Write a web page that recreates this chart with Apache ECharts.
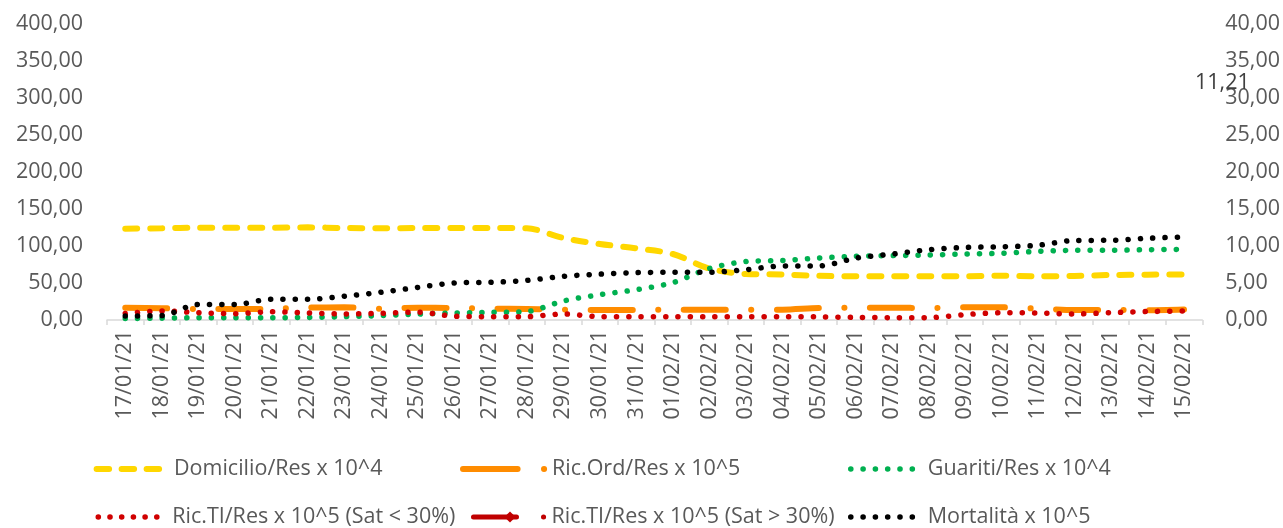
<!DOCTYPE html>
<html>
<head>
<meta charset="utf-8">
<script src="https://cdn.jsdelivr.net/npm/echarts@6/dist/echarts.min.js"></script>
<style>
  html, body { margin: 0; padding: 0; background: #ffffff; }
  #chart { width: 1283px; height: 528px; }
</style>
</head>
<body>
<div id="chart"></div>
<script>
// Daily dates shown on the category axis
const categories = [
  '17/01/21', '18/01/21', '19/01/21', '20/01/21', '21/01/21', '22/01/21', '23/01/21', '24/01/21',
  '25/01/21', '26/01/21', '27/01/21', '28/01/21', '29/01/21', '30/01/21', '31/01/21', '01/02/21',
  '02/02/21', '03/02/21', '04/02/21', '05/02/21', '06/02/21', '07/02/21', '08/02/21', '09/02/21',
  '10/02/21', '11/02/21', '12/02/21', '13/02/21', '14/02/21', '15/02/21'
];

// Left axis series (x 10^4 and x 10^5 ratios)
const domicilio = [123.4, 123.9, 124.8, 124.8, 124.8, 125.2, 124.3, 123.9, 124.3, 124.3, 124.3, 123.9, 110.8, 102.7, 96.8,
  89.2, 69.5, 62.2, 61.5, 59.7, 59.0, 59.0, 59.0, 59.0, 59.9, 59.0, 59.5, 60.8, 61.3, 61.5];
const ricOrd = [16.6, 15.9, 14.9, 14.9, 15.2, 16.8, 17.1, 15.3, 16.6, 16.2, 15.3, 14.9, 14.0, 13.5, 13.5,
  13.9, 13.9, 13.9, 14.0, 16.3, 16.6, 16.6, 16.2, 17.1, 17.1, 15.3, 13.5, 13.5, 13.2, 14.2];
const guariti = [2.0, 2.5, 3.0, 3.0, 3.0, 3.5, 4.5, 6.0, 8.0, 9.5, 10.4, 11.5, 25.7, 34.2, 41.0,
  50.5, 69.6, 79.0, 80.4, 83.8, 86.2, 87.0, 87.8, 89.2, 90.1, 92.8, 94.2, 94.2, 95.0, 95.5];

// Right axis series (x 10^5 ratios)
const ricTILow = [0.88, 1.22, 0.99, 0.85, 1.12, 0.95, 0.81, 0.90, 1.07, 0.51, 0.45, 0.45, 0.81, 0.45, 0.45,
  0.45, 0.45, 0.45, 0.45, 0.42, 0.35, 0.32, 0.32, 0.73, 0.97, 0.95, 0.81, 1.00, 1.14, 1.22];
const ricTIHigh = [];
const mortalita = [0.55, 0.60, 2.10, 2.10, 2.80, 2.80, 3.20, 3.75, 4.40, 5.00, 5.10, 5.35, 5.90, 6.20, 6.40,
  6.45, 6.45, 6.80, 7.30, 7.30, 8.35, 8.90, 9.50, 9.80, 9.90, 10.10, 10.75, 10.77, 11.05, 11.21];

// Tick label values for both value axes
const leftTicks = { min: 0, max: 400, step: 50 };
const rightTicks = { min: 0, max: 40, step: 5 };

const seriesNames = [
  'Domicilio/Res x 10^4',
  'Ric.Ord/Res x 10^5',
  'Guariti/Res x 10^4',
  'Ric.TI/Res x 10^5 (Sat < 30%)',
  'Ric.TI/Res x 10^5 (Sat > 30%)',
  'Mortalità x 10^5'
];

const FONT = '"Open Sans", "Noto Sans", sans-serif';
const TEXT_COLOR = '#595959';
const fmt = v => v.toFixed(2).replace('.', ',');

const chart = echarts.init(document.getElementById('chart'), null, { renderer: 'canvas' });

function legendItem(name, left, top, itemWidth, lineType, lineWidth, symbolVisible) {
  return {
    data: [name],
    left: left,
    top: top,
    orient: 'horizontal',
    padding: 0,
    itemGap: 0,
    itemWidth: itemWidth,
    itemHeight: 14,
    selectedMode: false,
    textStyle: { fontFamily: FONT, fontSize: 21.5, color: TEXT_COLOR },
    lineStyle: { width: lineWidth, type: lineType, cap: 'round' },
    itemStyle: symbolVisible ? {} : { opacity: 0 }
  };
}

const dotted = [0.1, 12.2];

const option = {
  animation: false,
  backgroundColor: '#ffffff',
  grid: { left: 107, right: 80, top: 24, bottom: 208, containLabel: false },
  legend: [
    legendItem(seriesNames[0], 93.6, 458, 72.4, [12.5, 12.5], 6, false),
    legendItem(seriesNames[1], 460, 458, 84, [54.6, 26.4, 0.1, 60], 6, false),
    legendItem(seriesNames[2], 848, 458, 72, [0.1, 12.2], 5.5, false),
    legendItem(seriesNames[3], 95.5, 506, 69, [0.1, 11.6], 5.5, false),
    legendItem(seriesNames[4], 471, 506, 73, [43, 27, 0.1, 60], 5, true),
    legendItem(seriesNames[5], 848, 506, 72, [0.1, 12.2], 5.5, false)
  ],
  xAxis: {
    type: 'category',
    data: categories,
    boundaryGap: true,
    axisLine: { show: true, lineStyle: { color: '#d9d9d9', width: 1.5 } },
    axisTick: { show: true, length: 5, lineStyle: { color: '#d9d9d9', width: 1.5 } },
    axisLabel: {
      rotate: 90, interval: 0, margin: 10,
      fontFamily: FONT, fontSize: 21.5, color: TEXT_COLOR
    },
    splitLine: { show: false }
  },
  yAxis: [
    {
      type: 'value', min: leftTicks.min, max: leftTicks.max, interval: leftTicks.step,
      axisLine: { show: false }, axisTick: { show: false }, splitLine: { show: false },
      axisLabel: { margin: 24, fontFamily: FONT, fontSize: 21.5, color: TEXT_COLOR, formatter: fmt }
    },
    {
      type: 'value', min: rightTicks.min, max: rightTicks.max, interval: rightTicks.step,
      axisLine: { show: false }, axisTick: { show: false }, splitLine: { show: false },
      axisLabel: { margin: 23, fontFamily: FONT, fontSize: 21.5, color: TEXT_COLOR, formatter: fmt }
    }
  ],
  series: [
    {
      name: seriesNames[0], type: 'line', yAxisIndex: 0, data: domicilio,
      smooth: 0.3, symbol: 'none', color: '#FFD700',
      lineStyle: { color: '#FFD700', width: 6, type: [12, 13], cap: 'round' }
    },
    {
      name: seriesNames[1], type: 'line', yAxisIndex: 0, data: ricOrd,
      smooth: 0.3, symbol: 'none', color: '#FF8C00',
      lineStyle: { color: '#FF8C00', width: 6, type: [42, 25.5, 0.1, 25.5], cap: 'round' }
    },
    {
      name: seriesNames[2], type: 'line', yAxisIndex: 0, data: guariti,
      smooth: 0.3, symbol: 'none', color: '#00B050',
      lineStyle: { color: '#00B050', width: 5.5, type: dotted, cap: 'round' }
    },
    {
      name: seriesNames[3], type: 'line', yAxisIndex: 1, data: ricTILow,
      smooth: 0.3, symbol: 'none', color: '#D00000',
      lineStyle: { color: '#D00000', width: 5.5, type: dotted, cap: 'round' }
    },
    {
      name: seriesNames[4], type: 'line', yAxisIndex: 1, data: ricTIHigh,
      symbol: 'diamond', symbolSize: 11, color: '#C00000',
      lineStyle: { color: '#C00000', width: 5, type: [42, 25.5, 0.1, 25.5], cap: 'round' }
    },
    {
      name: seriesNames[5], type: 'line', yAxisIndex: 1, data: mortalita,
      smooth: 0.3, symbol: 'none', color: '#000000',
      lineStyle: { color: '#000000', width: 5.5, type: dotted, cap: 'round' },
      endLabel: {
        show: true,
        distance: 0,
        align: 'left',
        verticalAlign: 'middle',
        offset: [11, -154],
        fontFamily: FONT, fontSize: 21.5, color: '#404040',
        formatter: p => fmt(p.value)
      }
    }
  ]
};

chart.setOption(option);
</script>
</body>
</html>
